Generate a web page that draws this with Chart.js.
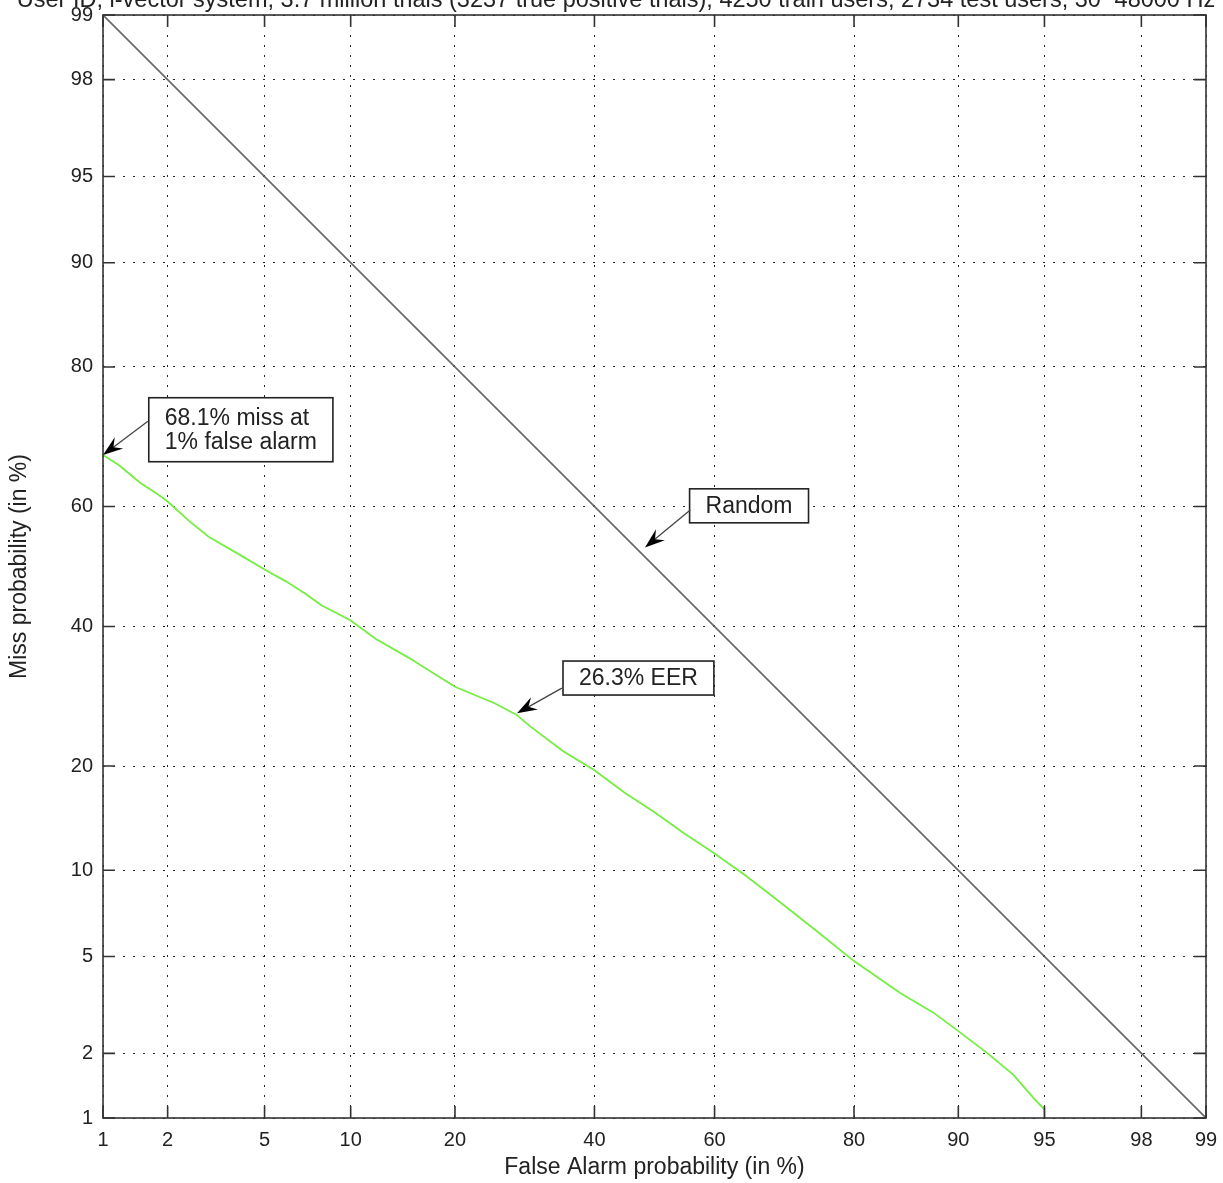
<!DOCTYPE html>
<html>
<head>
<meta charset="utf-8">
<script src="https://cdn.jsdelivr.net/npm/chart.js@4.4.1/dist/chart.umd.min.js"></script>
<style>
  html, body { margin: 0; padding: 0; background: #fff; }
  #wrap { width: 1223px; height: 1183px; position: relative; }
</style>
</head>
<body>
<div id="wrap"><canvas id="det"></canvas></div>
<script>
// DET curve, both axes on a normal-deviate (probit) scale

const chartTitle = "User ID, i-vector system, 3.7 million trials (3237 true positive trials), 4250 train users, 2734 test users, 30~48000 Hz";
const tickValues = [1, 2, 5, 10, 20, 40, 60, 80, 90, 95, 98, 99];

// system curve (false alarm %, miss %)
const falseAlarm = [1, 1.2, 1.5, 1.8, 2, 2.5, 3, 4, 5, 6, 7, 8, 10, 12, 15, 20, 25, 28, 30, 35, 40, 45, 50, 55, 60, 65, 70, 75, 80, 85, 88, 90, 92, 93.5, 94.5, 95, 95.1];
const missProb   = [68.1, 66.5, 63.8, 62, 60.8, 57.5, 55, 52, 49.5, 47.5, 45.5, 43.5, 41, 38, 35, 30.6, 28.2, 26.6, 25, 21.8, 19.5, 17, 15, 13, 11.3, 9.6, 7.9, 6.3, 4.8, 3.6, 3, 2.5, 2, 1.6, 1.25, 1.1, 0.3];

// chance line
const randomFA = [1, 99];
const randomMiss = [99, 1];

// text boxes with arrows, placed in data units (false alarm %, miss %)
const notes = [
  { text: ["68.1% miss at", "1% false alarm"], box: [4.05, 71.8], tail: [1.63, 73.0], tip: [1, 68.1] },
  { text: ["Random"], box: [65.5, 60.1], tail: [56.0, 59.4], tip: [48.4, 53.2] },
  { text: ["26.3% EER"], box: [47.3, 31.9], tail: [34.8, 30.4], tip: [28.1, 26.8] }
];

const FONT = '"Liberation Sans", Arial, Helvetica, sans-serif';

// inverse normal cdf (Acklam)
function probit(p) {
  const a = [-3.969683028665376e+01, 2.209460984245205e+02, -2.759285104469687e+02, 1.383577518672690e+02, -3.066479806614716e+01, 2.506628277459239e+00];
  const b = [-5.447609879822406e+01, 1.615858368580409e+02, -1.556989798598866e+02, 6.680131188771972e+01, -1.328068155288572e+01];
  const c = [-7.784894002430293e-03, -3.223964580411365e-01, -2.400758277161838e+00, -2.549671669062734e+00, 4.374664141464968e+00, 2.938163982698783e+00];
  const d = [7.784695709041462e-03, 3.224671290700398e-01, 2.445134137142996e+00, 3.754408661907416e+00];
  const pl = 0.02425;
  if (p <= 0) return -8;
  if (p >= 1) return 8;
  let q, r;
  if (p < pl) {
    q = Math.sqrt(-2 * Math.log(p));
    return (((((c[0]*q+c[1])*q+c[2])*q+c[3])*q+c[4])*q+c[5]) / ((((d[0]*q+d[1])*q+d[2])*q+d[3])*q+1);
  }
  if (p > 1 - pl) {
    q = Math.sqrt(-2 * Math.log(1 - p));
    return -(((((c[0]*q+c[1])*q+c[2])*q+c[3])*q+c[4])*q+c[5]) / ((((d[0]*q+d[1])*q+d[2])*q+d[3])*q+1);
  }
  q = p - 0.5; r = q * q;
  return (((((a[0]*r+a[1])*r+a[2])*r+a[3])*r+a[4])*r+a[5])*q / (((((b[0]*r+b[1])*r+b[2])*r+b[3])*r+b[4])*r+1);
}

function normCdf(z) {
  const t = 1 / (1 + 0.3275911 * Math.abs(z) / Math.SQRT2);
  const e = 1 - (((((1.061405429*t - 1.453152027)*t) + 1.421413741)*t - 0.284496736)*t + 0.254829592) * t * Math.exp(-z*z/2);
  return z >= 0 ? 0.5 * (1 + e) : 0.5 * (1 - e);
}

class ProbitScale extends Chart.LinearScale {
  buildTicks() {
    return tickValues.filter(v => v >= this.min && v <= this.max).map(v => ({ value: v }));
  }
  // edge labels may hang over the plot edge, like the original
  _calculatePadding() {
    this.paddingLeft = this.paddingRight = this.paddingTop = this.paddingBottom = 0;
  }
  configure() {
    super.configure();
    this._zLo = probit(this.min / 100);
    this._zHi = probit(this.max / 100);
  }
  getPixelForValue(value) {
    return this.getPixelForDecimal((probit(value / 100) - this._zLo) / (this._zHi - this._zLo));
  }
  getValueForPixel(pixel) {
    const z = this._zLo + this.getDecimalForPixel(pixel) * (this._zHi - this._zLo);
    return 100 * normCdf(z);
  }
}
ProbitScale.id = "probit";
ProbitScale.defaults = {};
Chart.register(ProbitScale);

// frame, inward tick marks, cut-off title and the text boxes
const decorPlugin = {
  id: "decor",
  afterDatasetsDraw(chart) {
    const { ctx, chartArea: ca, scales: { x, y } } = chart;
    ctx.save();
    ctx.strokeStyle = "#333";
    ctx.lineWidth = 1.6;
    ctx.strokeRect(ca.left, ca.top, ca.right - ca.left, ca.bottom - ca.top);
    ctx.beginPath();
    const len = 12;
    tickValues.forEach(v => {
      const px = x.getPixelForValue(v);
      ctx.moveTo(px, ca.bottom); ctx.lineTo(px, ca.bottom - len);
      ctx.moveTo(px, ca.top); ctx.lineTo(px, ca.top + len);
      const py = y.getPixelForValue(v);
      ctx.moveTo(ca.left, py); ctx.lineTo(ca.left + len, py);
      ctx.moveTo(ca.right, py); ctx.lineTo(ca.right - len, py);
    });
    ctx.stroke();
    ctx.restore();
  },
  afterDraw(chart) {
    const { ctx, scales: { x, y } } = chart;
    ctx.save();
    ctx.fillStyle = "#222";
    ctx.font = "23.5px " + FONT;
    ctx.textAlign = "center";
    ctx.textBaseline = "alphabetic";
    ctx.fillText(chartTitle, 616, 7);

    notes.forEach(n => {
      const cx = x.getPixelForValue(n.box[0]);
      const cy = y.getPixelForValue(n.box[1]);
      ctx.font = "23px " + FONT;
      const tw = Math.max(...n.text.map(t => ctx.measureText(t).width));
      const lh = 24;
      const w = tw + 32, h = n.text.length * 30 + 4;
      const bx = cx - w / 2, by = cy - h / 2;
      ctx.fillStyle = "#fff";
      ctx.fillRect(bx, by, w, h);
      ctx.strokeStyle = "#222";
      ctx.lineWidth = 1.6;
      ctx.strokeRect(bx, by, w, h);
      ctx.fillStyle = "#222";
      ctx.textAlign = "left";
      ctx.textBaseline = "middle";
      const ty0 = cy - (n.text.length - 1) * lh / 2;
      n.text.forEach((t, i) => ctx.fillText(t, bx + 16, ty0 + lh * i + 1));

      // arrow
      const tx = x.getPixelForValue(n.tail[0]), ty = y.getPixelForValue(n.tail[1]);
      const hx = x.getPixelForValue(n.tip[0]), hy = y.getPixelForValue(n.tip[1]);
      const ang = Math.atan2(hy - ty, hx - tx);
      const L = 20, W = 7;
      ctx.strokeStyle = "#444";
      ctx.lineWidth = 1.3;
      ctx.beginPath();
      ctx.moveTo(tx, ty);
      ctx.lineTo(hx - Math.cos(ang) * 10, hy - Math.sin(ang) * 10);
      ctx.stroke();
      const back = (d, s) => [hx - Math.cos(ang) * d - Math.sin(ang) * s, hy - Math.sin(ang) * d + Math.cos(ang) * s];
      ctx.fillStyle = "#000";
      ctx.beginPath();
      ctx.moveTo(hx, hy);
      ctx.lineTo(...back(L, W));
      ctx.lineTo(...back(L * 0.65, 0));
      ctx.lineTo(...back(L, -W));
      ctx.closePath();
      ctx.fill();
    });
    ctx.restore();
  }
};

const axisCommon = {
  type: "probit",
  min: 1,
  max: 99,
  grid: { color: "rgba(0,0,0,0.85)", lineWidth: 1, drawTicks: false },
  border: { display: false, dash: [2, 8] },
  ticks: {
    autoSkip: false,
    maxRotation: 0,
    color: "#222",
    font: { family: FONT, size: 20 },
    callback: v => String(v)
  }
};

new Chart(document.getElementById("det"), {
  type: "line",
  data: {
    datasets: [
      {
        label: "Random",
        data: randomFA.map((v, i) => ({ x: v, y: randomMiss[i] })),
        borderColor: "#666",
        borderWidth: 1.6,
        pointRadius: 0
      },
      {
        label: "System",
        data: falseAlarm.map((v, i) => ({ x: v, y: missProb[i] })),
        borderColor: "#74ee42",
        borderWidth: 1.8,
        pointRadius: 0,
        tension: 0
      }
    ]
  },
  options: {
    responsive: true,
    maintainAspectRatio: false,
    animation: false,
    events: [],
    layout: { autoPadding: false, padding: { top: 15, right: 17, left: 0, bottom: 0 } },
    plugins: { legend: { display: false }, tooltip: { enabled: false } },
    scales: {
      x: {
        ...axisCommon,
        position: "bottom",
        ticks: { ...axisCommon.ticks, padding: 10 },
        title: { display: true, text: "False Alarm probability (in %)", color: "#222", font: { family: FONT, size: 23 }, padding: { bottom: 2 } },
        afterFit: s => { s.height = 65; }
      },
      y: {
        ...axisCommon,
        position: "left",
        ticks: { ...axisCommon.ticks, padding: 10 },
        title: { display: true, text: "Miss probability (in %)", color: "#222", font: { family: FONT, size: 23 }, padding: { top: 6 } },
        afterFit: s => { s.width = 103; }
      }
    }
  },
  plugins: [decorPlugin]
});
</script>
</body>
</html>
